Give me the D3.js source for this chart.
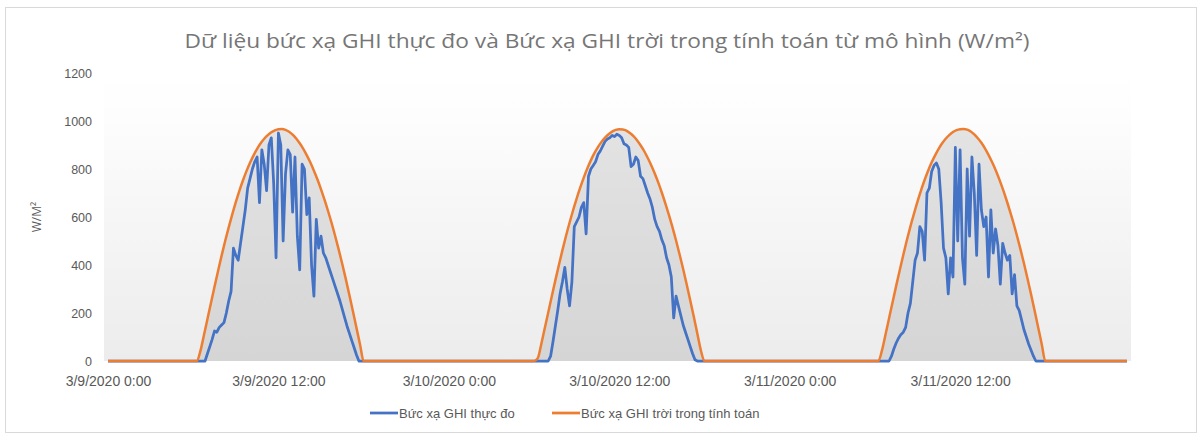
<!DOCTYPE html>
<html>
<head>
<meta charset="utf-8">
<script src="https://cdn.jsdelivr.net/npm/d3@7"></script>
<style>
  html, body { margin: 0; padding: 0; background: #ffffff; }
  svg { display: block; }
</style>
</head>
<body>
<svg id="chart" width="1202" height="439"></svg>
<script>
// ---- Data -------------------------------------------------------------
const titleText = "Dữ liệu bức xạ GHI thực đo và Bức xạ GHI trời trong tính toán từ mô hình (W/m²)";
const yAxisTitle = "W/M²";
const seriesNames = ["Bức xạ GHI thực đo", "Bức xạ GHI trời trong tính toán"];

const days = ["2020-03-09", "2020-03-10", "2020-03-11"];
const rangeStart = "2020-03-09 00:00";
const rangeEnd = "2020-03-12 00:00";
const lastSample = "2020-03-11 23:45";
const daySeriesStart = "06:00";      // each daily array starts at this time
const measuredStepMin = 10;          // measured GHI, 10-minute samples
const clearSkyStepMin = 15;          // modelled clear-sky GHI, 15-minute samples

const yTickValues = [0, 200, 400, 600, 800, 1000, 1200];
const xTickTimes = ["2020-03-09 00:00", "2020-03-09 12:00", "2020-03-10 00:00",
                    "2020-03-10 12:00", "2020-03-11 00:00", "2020-03-11 12:00"];
const xTickLabels = ["3/9/2020 0:00", "3/9/2020 12:00", "3/10/2020 0:00",
                     "3/10/2020 12:00", "3/11/2020 0:00", "3/11/2020 12:00"];

// Measured GHI (W/m²), 06:00 .. 18:00 every 10 minutes
const measuredDay1 = [
  0, 0, 0, 0, 0, 0,
  30, 60, 90, 125, 120, 140,
  150, 160, 200, 250, 290, 470,
  440, 420, 490, 560, 630, 720,
  760, 800, 830, 850, 660, 880,
  820, 710, 900, 930, 740, 430,
  950, 900, 500, 780, 880, 860,
  620, 850, 520, 380, 820, 800,
  610, 680, 400, 270, 590, 470,
  520, 450, 430, 400, 370, 340,
  310, 280, 250, 215, 180, 145,
  115, 85, 55, 25, 0, 0,
  0
];
const measuredDay2 = [
  0, 0, 0, 0, 0, 0,
  0, 20, 80, 145, 210, 280,
  330, 390, 300, 230, 330, 560,
  580, 600, 640, 660, 530, 770,
  800, 815, 830, 860, 875, 895,
  915, 925, 930, 940, 935, 945,
  940, 930, 905, 900, 890, 810,
  820, 850, 835, 770, 760, 730,
  700, 675, 640, 590, 560, 540,
  505, 480, 430, 400, 350, 180,
  270, 230, 190, 150, 120, 90,
  60, 30, 5, 0, 0, 0,
  0
];
const measuredDay3 = [
  0, 0, 0, 0, 0, 0,
  0, 20, 50, 75, 95, 110,
  120, 140, 200, 240, 330, 420,
  450, 560, 540, 420, 700, 720,
  790, 815, 825, 800, 660, 470,
  430, 280, 430, 350, 890, 500,
  880, 430, 320, 800, 520, 850,
  700, 440, 820, 630, 560, 600,
  350, 630, 450, 550, 480, 320,
  490, 450, 420, 440, 280, 360,
  230, 210, 170, 130, 100, 70,
  45, 20, 0, 0, 0, 0,
  0
];

// Clear-sky model GHI (W/m²), 06:00 .. 18:00 every 15 minutes
const clearSkyDay1 = [
  0, 0, 40, 106, 174, 242, 309, 375,
  439, 500, 557, 611, 662, 709, 752, 791,
  826, 857, 884, 907, 926, 941, 953, 961,
  966, 967, 963, 955, 943, 927, 907, 884,
  857, 827, 793, 756, 715, 671, 624, 574,
  520, 463, 403, 340, 274, 206, 137, 68,
  0
];
const clearSkyDay2 = [
  0, 10, 68, 135, 202, 270, 336, 400,
  462, 521, 576, 628, 677, 722, 764, 802,
  836, 866, 891, 913, 931, 945, 956, 963,
  966, 965, 960, 950, 937, 920, 899, 875,
  847, 816, 781, 743, 701, 656, 608, 557,
  502, 444, 383, 319, 252, 184, 114, 44,
  0
];
const clearSkyDay3 = [
  0, 0, 44, 110, 178, 246, 313, 378,
  442, 503, 560, 613, 664, 711, 754, 793,
  828, 858, 885, 908, 927, 942, 954, 962,
  966, 967, 964, 956, 944, 928, 909, 886,
  859, 829, 796, 759, 718, 674, 627, 577,
  523, 466, 406, 343, 277, 209, 140, 70,
  0
];

// ---- Helpers ----------------------------------------------------------
const parseTime = d3.timeParse("%Y-%m-%d %H:%M");

function buildSeries(dayArrays, stepMin) {
  const pts = [{ t: parseTime(rangeStart), v: 0 }];
  dayArrays.forEach((vals, i) => {
    const t0 = parseTime(days[i] + " " + daySeriesStart);
    vals.forEach((v, k) => pts.push({ t: d3.timeMinute.offset(t0, k * stepMin), v }));
  });
  pts.push({ t: parseTime(lastSample), v: 0 });
  return pts;
}

const measured = buildSeries([measuredDay1, measuredDay2, measuredDay3], measuredStepMin);
const clearSky = buildSeries([clearSkyDay1, clearSkyDay2, clearSkyDay3], clearSkyStepMin);

// ---- Layout -----------------------------------------------------------
const W = 1202, H = 439;
const plot = { left: 104, right: 1131, top: 73, bottom: 361 };

const svg = d3.select("#chart");

const x = d3.scaleTime()
  .domain([parseTime(rangeStart), parseTime(rangeEnd)])
  .range([108, 1130.5]);
const y = d3.scaleLinear().domain([0, 1200]).range([361, 73]);

const defs = svg.append("defs");
const bgGrad = defs.append("linearGradient")
  .attr("id", "plotBg").attr("gradientUnits", "userSpaceOnUse")
  .attr("x1", 0).attr("x2", 0).attr("y1", y(1200)).attr("y2", y(0));
bgGrad.append("stop").attr("offset", "0%").attr("stop-color", "#ffffff");
bgGrad.append("stop").attr("offset", "15%").attr("stop-color", "#fdfdfd");
bgGrad.append("stop").attr("offset", "100%").attr("stop-color", "#ececec");

const areaGrad = defs.append("linearGradient")
  .attr("id", "areaFill").attr("gradientUnits", "userSpaceOnUse")
  .attr("x1", 0).attr("x2", 0).attr("y1", y(970)).attr("y2", y(0));
areaGrad.append("stop").attr("offset", "0%").attr("stop-color", "#e3e3e3");
areaGrad.append("stop").attr("offset", "100%").attr("stop-color", "#d5d5d5");

// chart frame
svg.append("rect")
  .attr("x", 5.5).attr("y", 7.5).attr("width", W - 11).attr("height", H - 14)
  .attr("fill", "#ffffff").attr("stroke", "#d9d9d9").attr("stroke-width", 1);

// plot background
svg.append("rect")
  .attr("x", plot.left).attr("y", plot.top)
  .attr("width", plot.right - plot.left).attr("height", plot.bottom - plot.top)
  .attr("fill", "url(#plotBg)");

// shaded area beneath the clear-sky curve
svg.append("path")
  .datum(clearSky)
  .attr("fill", "url(#areaFill)")
  .attr("d", d3.area().x(d => x(d.t)).y0(y(0)).y1(d => y(d.v)).curve(d3.curveMonotoneX));

// measured GHI
svg.append("path")
  .datum(measured)
  .attr("fill", "none")
  .attr("stroke", "#4472C4")
  .attr("stroke-width", 2.75)
  .attr("stroke-linejoin", "round")
  .attr("d", d3.line().x(d => x(d.t)).y(d => y(d.v)));

// clear-sky model GHI
svg.append("path")
  .datum(clearSky)
  .attr("fill", "none")
  .attr("stroke", "#ED7D31")
  .attr("stroke-width", 2.5)
  .attr("stroke-linejoin", "round")
  .attr("d", d3.line().x(d => x(d.t)).y(d => y(d.v)).curve(d3.curveMonotoneX));

// ---- Axes -------------------------------------------------------------
const yAxis = d3.axisLeft(y).tickValues(yTickValues)
  .tickFormat(d3.format("d")).tickSize(0).tickPadding(0);
const yg = svg.append("g").attr("transform", "translate(92,0)").call(yAxis);
yg.select(".domain").remove();
yg.selectAll("text")
  .attr("font-family", "'Liberation Sans', Arial, sans-serif")
  .attr("font-size", 12.5).attr("fill", "#595959");

const xTicks = xTickTimes.map(parseTime);
const xAxis = d3.axisBottom(x).tickValues(xTicks)
  .tickFormat((d, i) => xTickLabels[i]).tickSize(0).tickPadding(0);
const xg = svg.append("g").attr("transform", "translate(0,376)").call(xAxis);
xg.select(".domain").remove();
xg.selectAll("text")
  .attr("font-family", "'Liberation Sans', Arial, sans-serif")
  .attr("font-size", 14).attr("fill", "#595959");

// y-axis title
svg.append("text")
  .attr("transform", "translate(41,217) rotate(-90)")
  .attr("text-anchor", "middle")
  .attr("font-family", "'Open Sans', 'Noto Sans', sans-serif")
  .attr("font-size", 12).attr("fill", "#595959")
  .text(yAxisTitle);

// chart title
svg.append("text")
  .attr("x", 607).attr("y", 48)
  .attr("text-anchor", "middle")
  .attr("font-family", "'Open Sans', 'Noto Sans', sans-serif")
  .attr("font-size", 19.5).attr("fill", "#767676")
  .attr("textLength", 845).attr("lengthAdjust", "spacingAndGlyphs")
  .text(titleText);

// ---- Legend -----------------------------------------------------------
const legendItems = [
  { name: seriesNames[0], color: "#4472C4", x0: 370 },
  { name: seriesNames[1], color: "#ED7D31", x0: 552 }
];
const lg = svg.append("g").attr("transform", "translate(0,413)");
legendItems.forEach(it => {
  lg.append("line")
    .attr("x1", it.x0).attr("x2", it.x0 + 28).attr("y1", 0).attr("y2", 0)
    .attr("stroke", it.color).attr("stroke-width", 2.75);
  lg.append("text")
    .attr("x", it.x0 + 29).attr("y", 0).attr("dy", "0.35em")
    .attr("font-family", "'Liberation Sans', Arial, sans-serif")
    .attr("font-size", 13).attr("fill", "#595959")
    .text(it.name);
});
</script>
</body>
</html>
